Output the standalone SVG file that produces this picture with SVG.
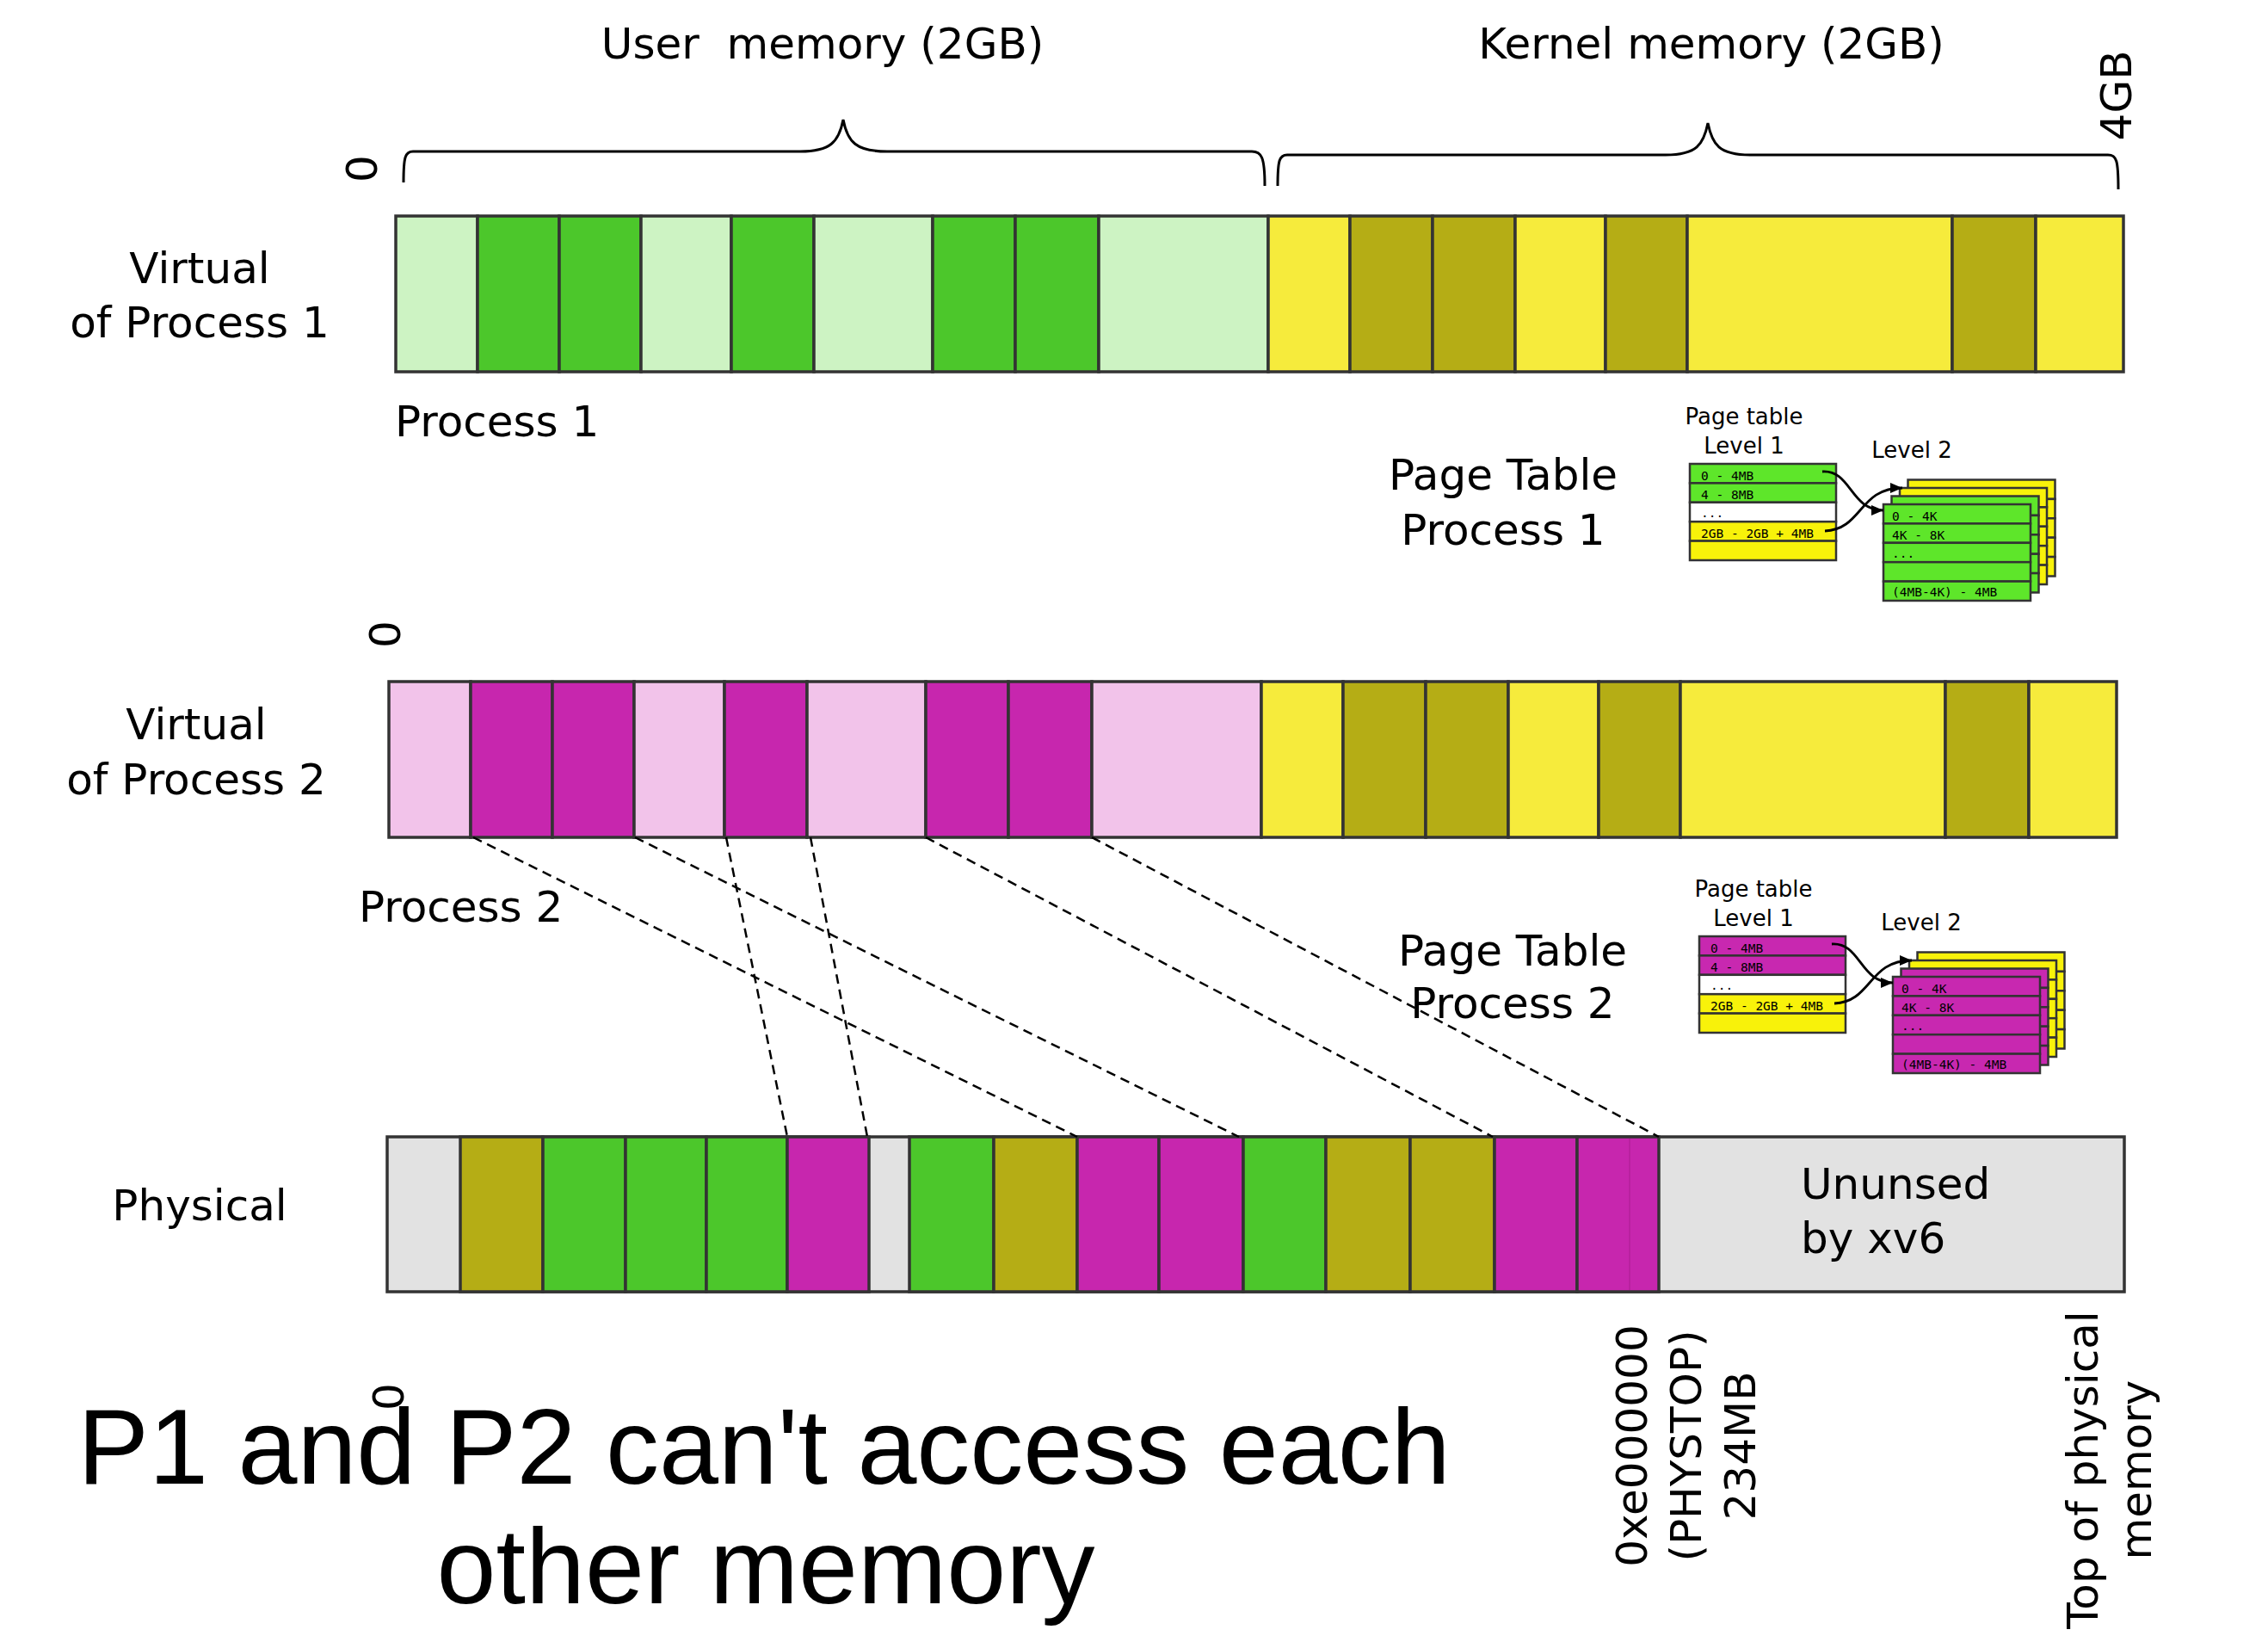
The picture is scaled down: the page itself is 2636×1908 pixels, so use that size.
<svg xmlns="http://www.w3.org/2000/svg" width="2636" height="1908" viewBox="0 0 2636 1908">
<defs>
<style>
.t{font-family:"DejaVu Sans","Liberation Sans",sans-serif;fill:#000;font-size:50px}
.tc{text-anchor:middle}
.sm{font-size:26px}
.mono{font-family:"DejaVu Sans Mono","Liberation Mono",monospace;font-size:14.5px;fill:#000}
.big{font-family:"Liberation Sans",Arial,sans-serif;font-size:124px;fill:#000;text-anchor:middle}
.cell{stroke:#333;stroke-width:3.5}
.row{stroke:#333;stroke-width:2.5}
.lg{fill:#cdf3c3}.gr{fill:#4cc72b}.ye{fill:#f6eb3c}.ol{fill:#b5ad15}
.lp{fill:#f2c3ea}.mg{fill:#c726ae}.gy{fill:#e2e2e2}
.pg{fill:#5ee62a}.py{fill:#f8f20a}.pw{fill:#ffffff}.pm{fill:#c828b0}
.brace{fill:none;stroke:#000;stroke-width:3}
.dash{fill:none;stroke:#000;stroke-width:2.5;stroke-dasharray:11 7}
.arr{fill:none;stroke:#000;stroke-width:2.8;marker-end:url(#ah)}
</style>
<marker id="ah" markerWidth="14" markerHeight="12" refX="14" refY="6" orient="auto" markerUnits="userSpaceOnUse"><path d="M0,0 L14,6 L0,12 z" fill="#000"/></marker>
</defs>
<rect width="2636" height="1908" fill="#fff"/>

<g id="titles">
<text class="t tc" x="956" y="68" xml:space="preserve">User  memory (2GB)</text>
<text class="t tc" x="1989" y="68">Kernel memory (2GB)</text>
<text class="t tc" transform="translate(2460,111) rotate(-90)" dominant-baseline="central">4GB</text>
<text class="t tc" transform="translate(421,196) rotate(-90)" dominant-baseline="central">0</text>
<path class="brace" d="M469,212 C469,182 471,176 480,176 L930,176 C965,176 975,165 980,139 C985,165 995,176 1031,176 L1455,176 C1466,176 1470,182 1470,216"/>
<path class="brace" d="M1485,216 C1485,186 1487,180 1496,180 L1936,180 C1972,180 1980,168 1985,143 C1990,168 1998,180 2034,180 L2450,180 C2460,180 2462,186 2462,220"/>
</g>

<g id="virtual1">
<text class="t tc" x="232" y="329">Virtual</text>
<text class="t tc" x="232" y="392">of Process 1</text>
<text class="t" x="459" y="507">Process 1</text>
<g class="cell">
<rect class="lg" x="460" y="251" width="95" height="181"/>
<rect class="gr" x="555" y="251" width="95" height="181"/>
<rect class="gr" x="650" y="251" width="95" height="181"/>
<rect class="lg" x="745" y="251" width="105" height="181"/>
<rect class="gr" x="850" y="251" width="96" height="181"/>
<rect class="lg" x="946" y="251" width="138" height="181"/>
<rect class="gr" x="1084" y="251" width="96" height="181"/>
<rect class="gr" x="1180" y="251" width="97" height="181"/>
<rect class="lg" x="1277" y="251" width="197" height="181"/>
<rect class="ye" x="1474" y="251" width="95" height="181"/>
<rect class="ol" x="1569" y="251" width="96" height="181"/>
<rect class="ol" x="1665" y="251" width="96" height="181"/>
<rect class="ye" x="1761" y="251" width="105" height="181"/>
<rect class="ol" x="1866" y="251" width="95" height="181"/>
<rect class="ye" x="1961" y="251" width="308" height="181"/>
<rect class="ol" x="2269" y="251" width="97" height="181"/>
<rect class="ye" x="2366" y="251" width="102" height="181"/>
</g>
</g>

<g id="virtual2">
<text class="t tc" transform="translate(448,737) rotate(-90)" dominant-baseline="central">0</text>
<text class="t tc" x="228" y="859">Virtual</text>
<text class="t tc" x="228" y="923">of Process 2</text>
<text class="t" x="417" y="1071">Process 2</text>
<g class="cell" transform="translate(-8,541)">
<rect class="lp" x="460" y="251" width="95" height="181"/>
<rect class="mg" x="555" y="251" width="95" height="181"/>
<rect class="mg" x="650" y="251" width="95" height="181"/>
<rect class="lp" x="745" y="251" width="105" height="181"/>
<rect class="mg" x="850" y="251" width="96" height="181"/>
<rect class="lp" x="946" y="251" width="138" height="181"/>
<rect class="mg" x="1084" y="251" width="96" height="181"/>
<rect class="mg" x="1180" y="251" width="97" height="181"/>
<rect class="lp" x="1277" y="251" width="197" height="181"/>
<rect class="ye" x="1474" y="251" width="95" height="181"/>
<rect class="ol" x="1569" y="251" width="96" height="181"/>
<rect class="ol" x="1665" y="251" width="96" height="181"/>
<rect class="ye" x="1761" y="251" width="105" height="181"/>
<rect class="ol" x="1866" y="251" width="95" height="181"/>
<rect class="ye" x="1961" y="251" width="308" height="181"/>
<rect class="ol" x="2269" y="251" width="97" height="181"/>
<rect class="ye" x="2366" y="251" width="102" height="181"/>
</g>
</g>

<g id="physical">
<text class="t tc" x="232" y="1418">Physical</text>
<g class="cell">
<rect class="gy" x="450" y="1321" width="2019" height="180"/>
<rect class="ol" x="535" y="1321" width="96" height="180"/>
<rect class="gr" x="631" y="1321" width="96" height="180"/>
<rect class="gr" x="727" y="1321" width="94" height="180"/>
<rect class="gr" x="821" y="1321" width="94" height="180"/>
<rect class="mg" x="915" y="1321" width="95" height="180"/>
<rect class="gr" x="1057" y="1321" width="98" height="180"/>
<rect class="ol" x="1155" y="1321" width="97" height="180"/>
<rect class="mg" x="1252" y="1321" width="95" height="180"/>
<rect class="mg" x="1347" y="1321" width="98" height="180"/>
<rect class="gr" x="1445" y="1321" width="96" height="180"/>
<rect class="ol" x="1541" y="1321" width="98" height="180"/>
<rect class="ol" x="1639" y="1321" width="98" height="180"/>
<rect class="mg" x="1737" y="1321" width="96" height="180"/>
<rect class="mg" x="1833" y="1321" width="95" height="180"/>
</g>
<line x1="1894" y1="1323" x2="1894" y2="1499" stroke="#b5219b" stroke-width="1.5"/>
<text class="t" x="2093" y="1393">Ununsed</text>
<text class="t" x="2093" y="1456">by xv6</text>
</g>

<g id="pagetable1">
<text class="t tc" x="1747" y="569">Page Table</text>
<text class="t tc" x="1747" y="633">Process 1</text>
<text class="t tc sm" x="2027" y="493">Page table</text>
<text class="t tc sm" x="2027" y="527">Level 1</text>
<text class="t tc sm" x="2222" y="532">Level 2</text>
<g class="row" transform="translate(1964,539)">
<rect class="pg" x="0" y="0" width="170" height="22.4"/>
<rect class="pg" x="0" y="22.4" width="170" height="22.4"/>
<rect class="pw" x="0" y="44.8" width="170" height="22.4"/>
<rect class="py" x="0" y="67.2" width="170" height="22.4"/>
<rect class="py" x="0" y="89.6" width="170" height="22.4"/>
<text class="mono" x="13" y="18.5" stroke="none">0 - 4MB</text>
<text class="mono" x="13" y="41" stroke="none">4 - 8MB</text>
<text class="mono" x="13" y="62" stroke="none">...</text>
<text class="mono" x="13" y="85.5" stroke="none">2GB - 2GB + 4MB</text>
</g>
<g class="row" transform="translate(2217.5,557.5)">
<rect class="py" x="0" y="0" width="171" height="22.4"/><rect class="py" x="0" y="22.4" width="171" height="22.4"/><rect class="py" x="0" y="44.8" width="171" height="22.4"/><rect class="py" x="0" y="67.2" width="171" height="22.4"/><rect class="py" x="0" y="89.6" width="171" height="22.4"/>
<text class="mono" x="10" y="18.5" stroke="none">0 - 4K</text>
</g>
<g class="row" transform="translate(2208,567)">
<rect class="py" x="0" y="0" width="171" height="22.4"/><rect class="py" x="0" y="22.4" width="171" height="22.4"/><rect class="py" x="0" y="44.8" width="171" height="22.4"/><rect class="py" x="0" y="67.2" width="171" height="22.4"/><rect class="py" x="0" y="89.6" width="171" height="22.4"/>
<text class="mono" x="10" y="18.5" stroke="none">0 - 4K</text>
</g>
<g class="row" transform="translate(2198.5,576.5)">
<rect class="pg" x="0" y="0" width="171" height="22.4"/><rect class="pg" x="0" y="22.4" width="171" height="22.4"/><rect class="pg" x="0" y="44.8" width="171" height="22.4"/><rect class="pg" x="0" y="67.2" width="171" height="22.4"/><rect class="pg" x="0" y="89.6" width="171" height="22.4"/>
<text class="mono" x="10" y="18.5" stroke="none">0 - 4K</text>
</g>
<g class="row" transform="translate(2189,586)">
<rect class="pg" x="0" y="0" width="171" height="22.4"/><rect class="pg" x="0" y="22.4" width="171" height="22.4"/><rect class="pg" x="0" y="44.8" width="171" height="22.4"/><rect class="pg" x="0" y="67.2" width="171" height="22.4"/><rect class="pg" x="0" y="89.6" width="171" height="22.4"/>
<text class="mono" x="10" y="18.5" stroke="none">0 - 4K</text>
<text class="mono" x="10" y="41" stroke="none">4K - 8K</text>
<text class="mono" x="10" y="62" stroke="none">...</text>
<text class="mono" x="10" y="107" stroke="none">(4MB-4K) - 4MB</text>
</g>
<path class="arr" d="M2118,548 C2152,546 2150,593 2189,593"/>
<path class="arr" d="M2121,617 C2165,615 2160,567 2211,567"/>
</g>

<g id="pagetable2">
<text class="t tc" x="1758" y="1122">Page Table</text>
<text class="t tc" x="1758" y="1183">Process 2</text>
<g transform="translate(11,549)">
<text class="t tc sm" x="2027" y="493">Page table</text>
<text class="t tc sm" x="2027" y="527">Level 1</text>
<text class="t tc sm" x="2222" y="532">Level 2</text>
<g class="row" transform="translate(1964,539)">
<rect class="pm" x="0" y="0" width="170" height="22.4"/>
<rect class="pm" x="0" y="22.4" width="170" height="22.4"/>
<rect class="pw" x="0" y="44.8" width="170" height="22.4"/>
<rect class="py" x="0" y="67.2" width="170" height="22.4"/>
<rect class="py" x="0" y="89.6" width="170" height="22.4"/>
<text class="mono" x="13" y="18.5" stroke="none">0 - 4MB</text>
<text class="mono" x="13" y="41" stroke="none">4 - 8MB</text>
<text class="mono" x="13" y="62" stroke="none">...</text>
<text class="mono" x="13" y="85.5" stroke="none">2GB - 2GB + 4MB</text>
</g>
<g class="row" transform="translate(2217.5,557.5)">
<rect class="py" x="0" y="0" width="171" height="22.4"/><rect class="py" x="0" y="22.4" width="171" height="22.4"/><rect class="py" x="0" y="44.8" width="171" height="22.4"/><rect class="py" x="0" y="67.2" width="171" height="22.4"/><rect class="py" x="0" y="89.6" width="171" height="22.4"/>
<text class="mono" x="10" y="18.5" stroke="none">0 - 4K</text>
</g>
<g class="row" transform="translate(2208,567)">
<rect class="py" x="0" y="0" width="171" height="22.4"/><rect class="py" x="0" y="22.4" width="171" height="22.4"/><rect class="py" x="0" y="44.8" width="171" height="22.4"/><rect class="py" x="0" y="67.2" width="171" height="22.4"/><rect class="py" x="0" y="89.6" width="171" height="22.4"/>
<text class="mono" x="10" y="18.5" stroke="none">0 - 4K</text>
</g>
<g class="row" transform="translate(2198.5,576.5)">
<rect class="pm" x="0" y="0" width="171" height="22.4"/><rect class="pm" x="0" y="22.4" width="171" height="22.4"/><rect class="pm" x="0" y="44.8" width="171" height="22.4"/><rect class="pm" x="0" y="67.2" width="171" height="22.4"/><rect class="pm" x="0" y="89.6" width="171" height="22.4"/>
<text class="mono" x="10" y="18.5" stroke="none">0 - 4K</text>
</g>
<g class="row" transform="translate(2189,586)">
<rect class="pm" x="0" y="0" width="171" height="22.4"/><rect class="pm" x="0" y="22.4" width="171" height="22.4"/><rect class="pm" x="0" y="44.8" width="171" height="22.4"/><rect class="pm" x="0" y="67.2" width="171" height="22.4"/><rect class="pm" x="0" y="89.6" width="171" height="22.4"/>
<text class="mono" x="10" y="18.5" stroke="none">0 - 4K</text>
<text class="mono" x="10" y="41" stroke="none">4K - 8K</text>
<text class="mono" x="10" y="62" stroke="none">...</text>
<text class="mono" x="10" y="107" stroke="none">(4MB-4K) - 4MB</text>
</g>
<path class="arr" d="M2118,548 C2152,546 2150,593 2189,593"/>
<path class="arr" d="M2121,617 C2165,615 2160,567 2211,567"/>
</g>
</g>

<g id="connectors">
<line class="dash" x1="550" y1="973" x2="1252" y2="1321"/>
<line class="dash" x1="738" y1="973" x2="1440" y2="1321"/>
<line class="dash" x1="844" y1="973" x2="915" y2="1321"/>
<line class="dash" x1="942" y1="973" x2="1008" y2="1321"/>
<line class="dash" x1="1076" y1="973" x2="1735" y2="1321"/>
<line class="dash" x1="1269" y1="973" x2="1928" y2="1321"/>
</g>

<g id="bottom-labels">
<text class="t tc" transform="translate(1914,1680) rotate(-90)"><tspan x="0" y="0">0xe000000</tspan><tspan x="0" y="63">(PHYSTOP)</tspan><tspan x="0" y="126">234MB</tspan></text>
<text class="t tc" transform="translate(2438,1708) rotate(-90)"><tspan x="0" y="0">Top of physical</tspan><tspan x="0" y="62">memory</tspan></text>
<text class="big" x="888" y="1724">P1 and P2 can't access each</text>
<text class="big" x="890" y="1863">other memory</text>
<text class="t tc" transform="translate(452,1623) rotate(-90)" dominant-baseline="central">0</text>
</g>
</svg>
